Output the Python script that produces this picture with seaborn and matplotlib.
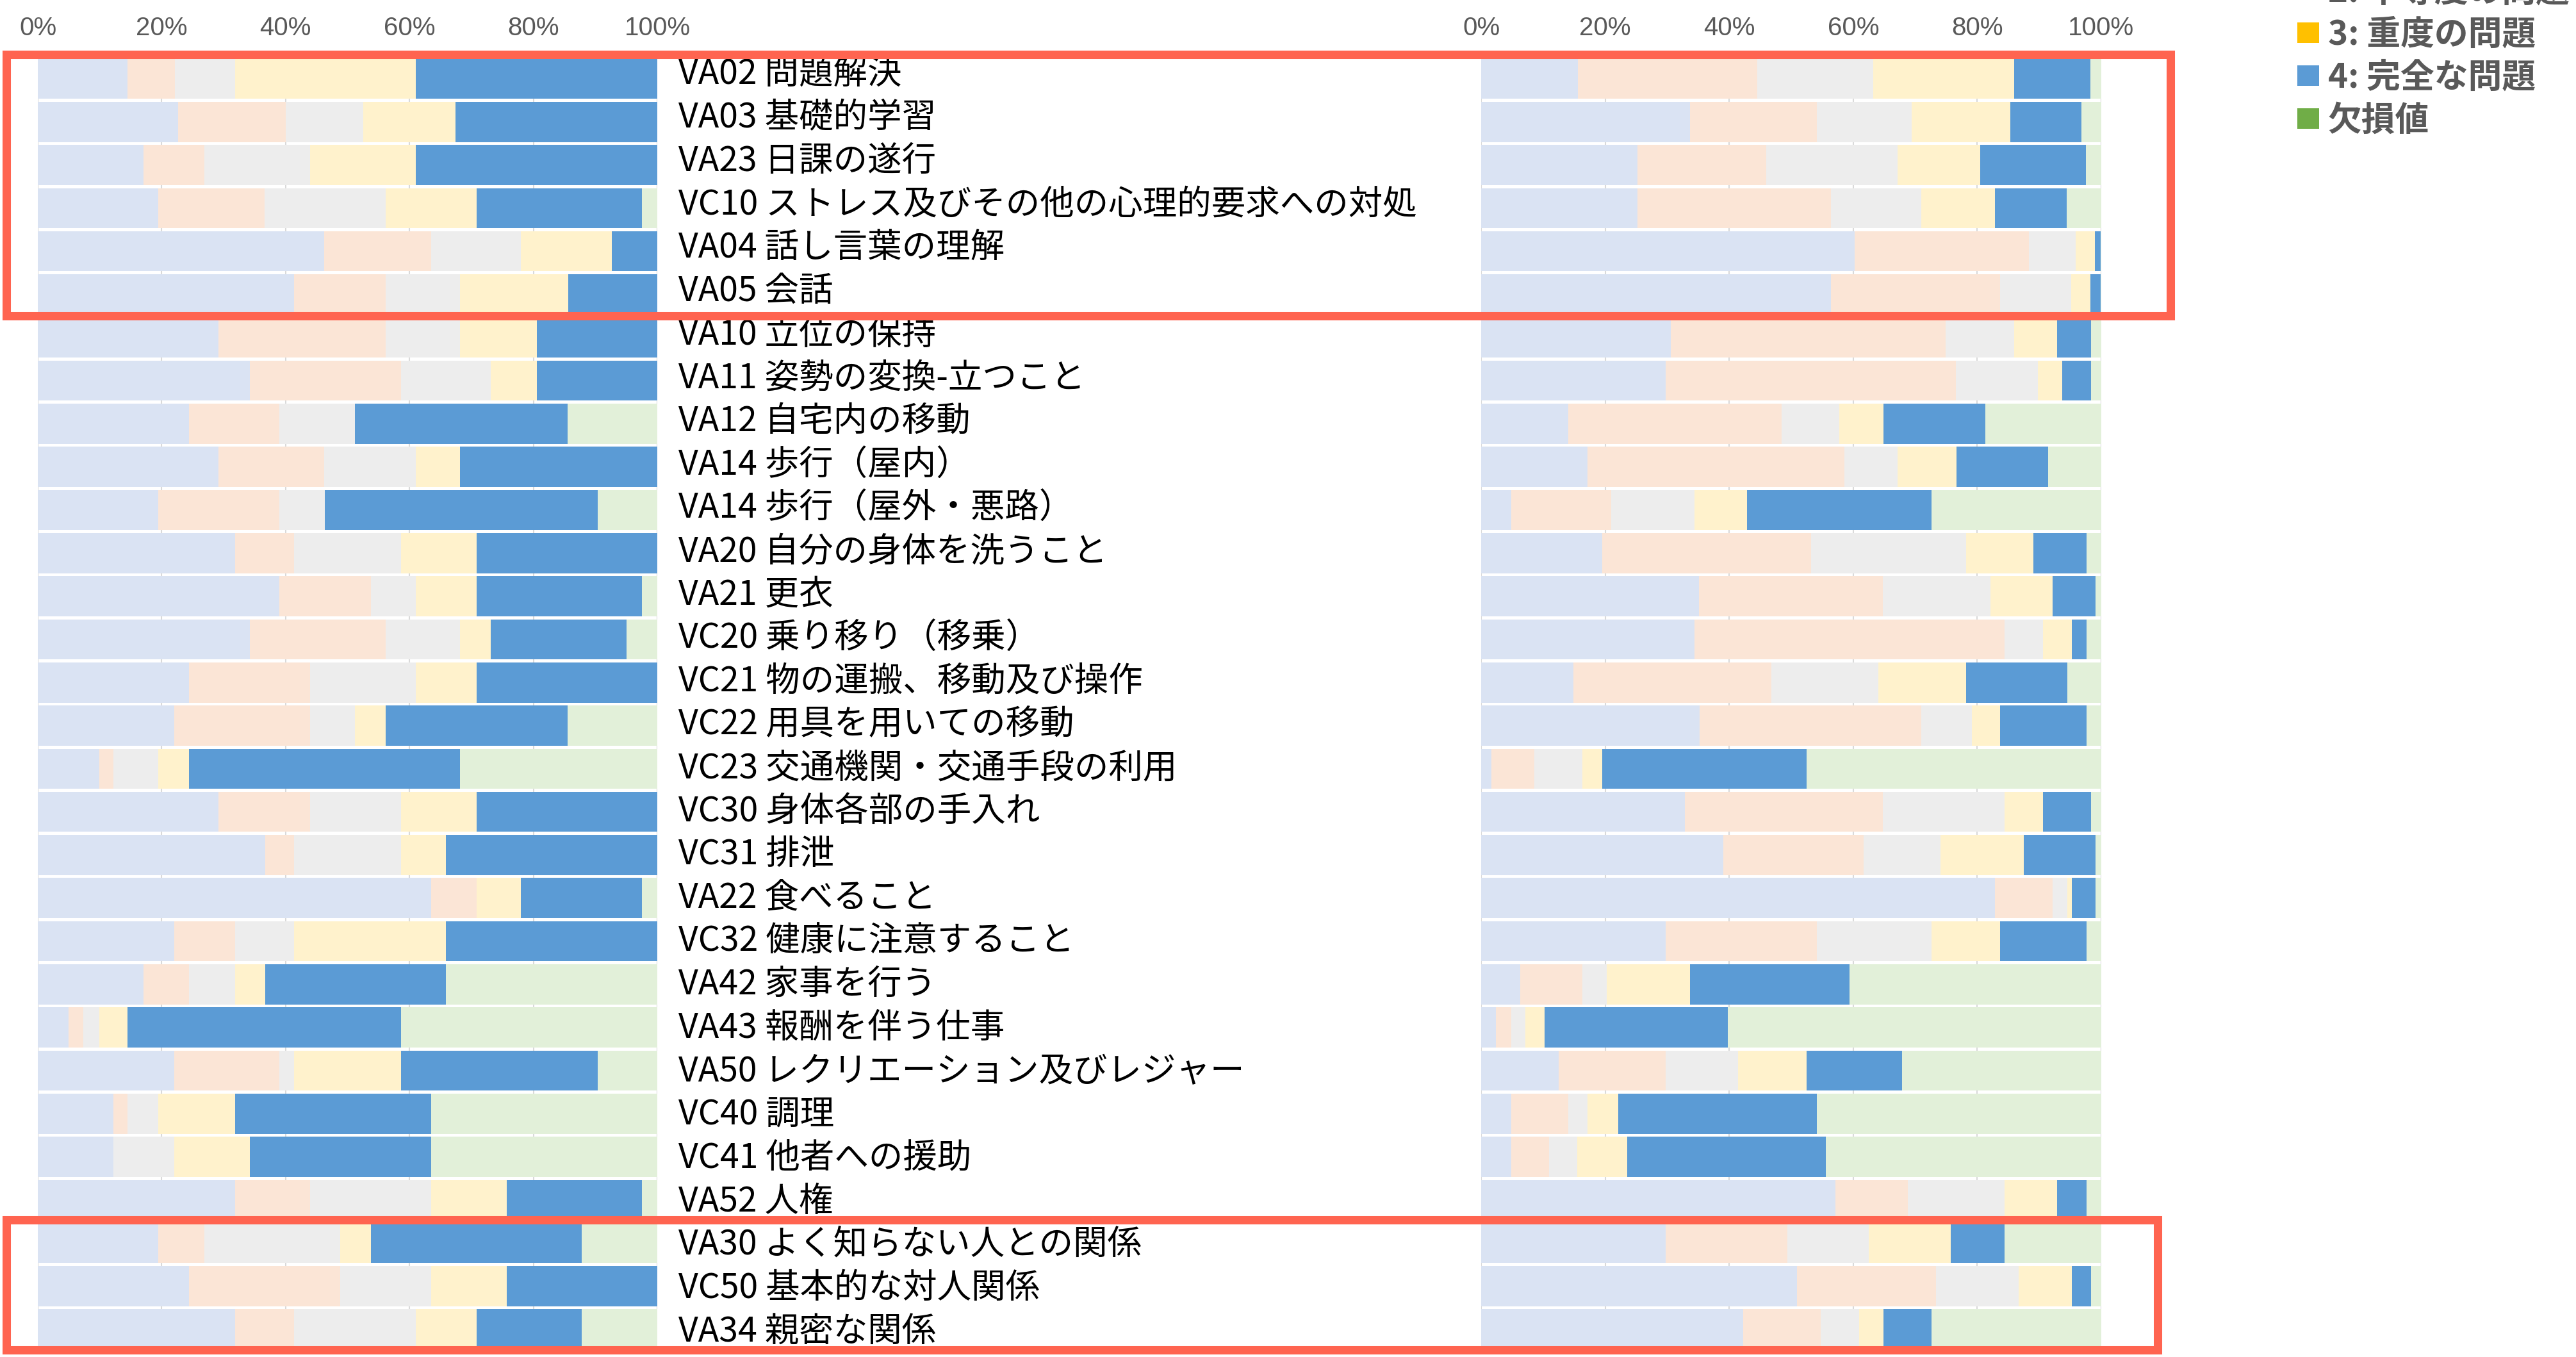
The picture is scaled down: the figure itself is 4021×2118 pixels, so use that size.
import pandas as pd
import matplotlib
matplotlib.use("Agg")
import matplotlib.pyplot as plt
import seaborn as sns
from matplotlib.patches import Patch, Rectangle
from matplotlib.transforms import blended_transform_factory

# ==========================================
# Data (percent of respondents per level)
# ==========================================

items = [
    "VA02 問題解決", "VA03 基礎的学習", "VA23 日課の遂行",
    "VC10 ストレス及びその他の心理的要求への対処", "VA04 話し言葉の理解", "VA05 会話",
    "VA10 立位の保持", "VA11 姿勢の変換-立つこと", "VA12 自宅内の移動",
    "VA14 歩行（屋内）", "VA14 歩行（屋外・悪路）", "VA20 自分の身体を洗うこと",
    "VA21 更衣", "VC20 乗り移り（移乗）", "VC21 物の運搬、移動及び操作",
    "VC22 用具を用いての移動", "VC23 交通機関・交通手段の利用", "VC30 身体各部の手入れ",
    "VC31 排泄", "VA22 食べること", "VC32 健康に注意すること",
    "VA42 家事を行う", "VA43 報酬を伴う仕事", "VA50 レクリエーション及びレジャー",
    "VC40 調理", "VC41 他者への援助", "VA52 人権",
    "VA30 よく知らない人との関係", "VC50 基本的な対人関係", "VA34 親密な関係",
]

levels = ["0: 問題なし", "1: 軽度の問題", "2: 中等度の問題",
          "3: 重度の問題", "4: 完全な問題", "欠損値"]

# left panel
left_0 = [14.5, 22.6, 17.1, 19.4, 46.2, 41.4, 29.2, 34.2, 24.4, 29.2, 19.4, 31.8, 39.0, 34.2, 24.4,
          22.0, 9.9, 29.2, 36.7, 63.5, 22.0, 17.1, 5.0, 22.0, 12.2, 12.2, 31.8, 19.4, 24.4, 31.8]
left_1 = [7.6, 17.4, 9.8, 17.2, 17.3, 14.7, 26.9, 24.4, 14.6, 17.0, 19.6, 9.6, 14.8, 21.9, 19.6,
          22.0, 2.3, 14.8, 4.7, 7.3, 9.8, 7.3, 2.3, 17.0, 2.3, 0.0, 12.2, 7.5, 24.4, 9.6]
left_2 = [9.7, 12.5, 17.1, 19.5, 14.5, 12.0, 12.0, 14.5, 12.2, 14.8, 7.3, 17.2, 7.2, 12.0, 17.0,
          7.2, 7.2, 14.6, 17.2, 0.0, 9.6, 7.4, 2.6, 2.4, 4.9, 9.8, 19.5, 21.9, 14.7, 19.6]
left_3 = [29.2, 14.9, 17.0, 14.7, 14.7, 17.5, 12.5, 7.5, 0.0, 7.1, 0.0, 12.2, 9.8, 5.0, 9.8,
          4.9, 5.0, 12.2, 7.3, 7.2, 24.5, 4.9, 4.6, 17.2, 12.5, 12.2, 12.2, 5.0, 12.2, 9.8]
left_4 = [39.0, 32.6, 39.0, 26.7, 7.3, 14.4, 19.4, 19.4, 34.3, 31.9, 44.1, 29.2, 26.7, 21.9, 29.2,
          29.4, 43.7, 29.2, 34.1, 19.5, 34.1, 29.2, 44.1, 31.8, 31.6, 29.3, 21.8, 34.0, 24.3, 17.0]
left_na = [0.0, 0.0, 0.0, 2.5, 0.0, 0.0, 0.0, 0.0, 14.5, 0.0, 9.6, 0.0, 2.5, 5.0, 0.0,
           14.5, 31.9, 0.0, 0.0, 2.5, 0.0, 34.1, 41.4, 9.6, 36.5, 36.5, 2.5, 12.2, 0.0, 12.2]

# right panel
right_0 = [15.6, 33.7, 25.2, 25.2, 60.2, 56.4, 30.6, 29.8, 14.0, 17.1, 4.8, 19.5, 35.1, 34.4, 14.9,
           35.2, 1.6, 32.8, 39.0, 82.9, 29.8, 6.3, 2.4, 12.5, 4.8, 4.8, 57.1, 29.8, 50.9, 42.2]
right_1 = [28.9, 20.4, 20.8, 31.2, 28.1, 27.3, 44.3, 46.8, 34.4, 41.5, 16.2, 33.7, 29.7, 50.0, 31.9,
           35.8, 7.0, 32.0, 22.7, 9.3, 24.3, 10.0, 2.4, 17.3, 9.2, 6.1, 11.7, 19.6, 22.5, 12.6]
right_2 = [18.7, 15.3, 21.1, 14.6, 7.6, 11.5, 11.1, 13.2, 9.4, 8.6, 13.4, 25.0, 17.3, 6.2, 17.3,
           8.1, 7.7, 19.6, 12.4, 2.3, 18.5, 3.9, 2.3, 11.6, 3.1, 4.6, 15.6, 13.1, 13.3, 6.2]
right_3 = [22.8, 15.9, 13.4, 11.9, 3.1, 3.1, 6.9, 3.9, 7.1, 9.5, 8.5, 10.9, 10.1, 4.7, 14.1,
           4.6, 3.2, 6.2, 13.4, 0.8, 11.1, 13.5, 3.1, 11.1, 5.0, 8.1, 8.5, 13.2, 8.6, 3.9]
right_4 = [12.3, 11.5, 17.0, 11.5, 0.9, 1.6, 5.5, 4.7, 16.4, 14.7, 29.7, 8.5, 6.9, 2.3, 16.3,
           13.9, 33.0, 7.8, 11.6, 3.8, 13.9, 25.7, 29.6, 15.4, 32.0, 32.0, 4.7, 8.7, 3.1, 7.7]
right_na = [1.7, 3.2, 2.5, 5.6, 0.1, 0.1, 1.6, 1.6, 18.7, 8.6, 27.4, 2.4, 0.9, 2.4, 5.5,
            2.4, 47.5, 1.6, 0.9, 0.9, 2.4, 40.6, 60.2, 32.1, 45.9, 44.4, 2.4, 15.6, 1.6, 27.4]

# pale tints for bars, only level 4 is kept saturated
bar_colors = ["#DAE3F3", "#FBE5D6", "#EDEDED", "#FFF2CC", "#5B9BD5", "#E2F0D9"]
legend_colors = ["#4472C4", "#ED7D31", "#A5A5A5", "#FFC000", "#5B9BD5", "#70AD47"]

# ==========================================
# Plot
# ==========================================

sns.set_style("white")
plt.rcParams["font.family"] = ["Noto Sans CJK JP", "DejaVu Sans"]

fig = plt.figure(figsize=(40.21, 21.18), dpi=100)
ax_l = fig.add_axes([0.01467, 0.00453, 0.2405, 0.9533])
ax_r = fig.add_axes([0.5750, 0.00453, 0.2407, 0.9533])
# item names sit in their own column between the two panels
ax_txt = fig.add_axes([0.26337, 0.00194, 0.30, 0.9582])


def draw_panel(ax, parts):
    df = pd.DataFrame(dict(zip(levels, parts)))
    df["item"] = items
    cum = df[levels].cumsum(axis=1)
    # draw cumulative bars from the longest down, so they stack visually
    for lev, col in reversed(list(zip(levels, bar_colors))):
        sns.barplot(x=cum[lev], y=df["item"], color=col, saturation=1,
                    width=0.93, orient="y", errorbar=None, linewidth=0, ax=ax)
    ax.set_xlim(0, 100)
    ax.set_ylim(len(items) - 0.5, -0.5)
    ax.set_xticks(range(0, 101, 20))
    ax.set_xticklabels([f"{t}%" for t in range(0, 101, 20)])
    ax.xaxis.tick_top()
    ax.tick_params(axis="x", length=0, pad=19, labelsize=29, labelcolor="#595959")
    for lbl in ax.get_xticklabels():
        lbl.set_fontfamily(["Liberation Sans", "DejaVu Sans"])
    ax.tick_params(axis="y", left=False, labelleft=False)
    ax.grid(axis="x", color="#D9D9D9", linewidth=1.5)
    ax.set_axisbelow(True)
    for s in ax.spines.values():
        s.set_visible(False)
    ax.set_xlabel("")
    ax.set_ylabel("")


draw_panel(ax_l, [left_0, left_1, left_2, left_3, left_4, left_na])
draw_panel(ax_r, [right_0, right_1, right_2, right_3, right_4, right_na])

ax_txt.set_xlim(0, 1)
ax_txt.set_ylim(len(items) - 0.5, -0.5)
ax_txt.axis("off")
for i, name in enumerate(items):
    ax_txt.text(0, i + 0.2, name, ha="left", va="baseline", fontsize=38.5, color="black")

# legend (top entries run off the top of the figure, as in the source)
handles = [Patch(facecolor=c, edgecolor="none", label=l) for c, l in zip(legend_colors, levels)]
fig.legend(handles=handles, loc="lower left", bbox_to_anchor=(3586 / 4021, 0.8985),
           frameon=False, borderpad=0, borderaxespad=0,
           handlelength=0.64, handleheight=0.56, handletextpad=0.26, labelspacing=0.27,
           prop={"size": 38, "weight": "bold"}, labelcolor="#595959")

# red highlight boxes around row groups
tr = blended_transform_factory(fig.transFigure, ax_l.transData)
for y0, y1, x1 in [(-0.571, 5.491, 3387.5), (26.46, 29.48, 3367.5)]:
    fig.add_artist(Rectangle((9.5 / 4021, y0), (x1 - 9.5) / 4021, y1 - y0, transform=tr,
                             fill=False, edgecolor="#FF6450", linewidth=9.4,
                             clip_on=False, zorder=10))

plt.savefig("out.png", dpi=100)
